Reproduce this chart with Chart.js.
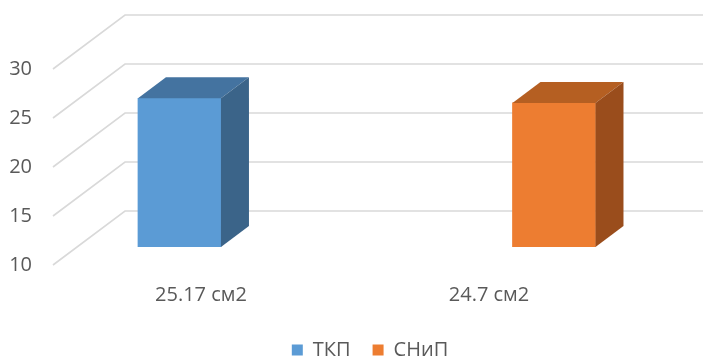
<!DOCTYPE html>
<html>
<head>
<meta charset="utf-8">
<script src="https://cdn.jsdelivr.net/npm/chart.js@4/dist/chart.umd.min.js"></script>
<style>
  html, body { margin: 0; padding: 0; background: #fff; }
  #wrap { width: 703px; height: 358px; }
</style>
</head>
<body>
<div id="wrap"><canvas id="c" width="703" height="358"></canvas></div>
<script>
// Areas compared by two norms
const categories = ['25.17 см2', '24.7 см2'];
const seriesNames = ['ТКП', 'СНиП'];
const tkpValues = [25.17, null];
const snipValues = [null, 24.7];
const yTicks = [10, 15, 20, 25, 30];

// colours: front face, top face, side face
const palette = [
  { front: '#5b9bd5', top: '#4473a0', side: '#3b6489' },
  { front: '#ed7d31', top: '#b55f22', side: '#9a4d1c' }
];

const FONT = "'Open Sans', sans-serif";
const TEXT = '#595959';
const GRID = '#d9d9d9';

// 3D box geometry
const BAR_DX = 28, BAR_DY = 21;       // depth of a bar
const FRAME_LEFT = -4;                // front edge of the frame, relative to the plot's left
const FRAME_DX = 72;                  // horizontal run of the side wall
const FRONT_DY = 18, BACK_DY = 36;    // front / back planes relative to the bar plane

function toPoints(values) {
  const pts = [];
  values.forEach((v, i) => { if (v !== null) pts.push({ x: i, y: v }); });
  return pts;
}

const frame3d = {
  id: 'frame3d',
  beforeDatasetsDraw(chart) {
    const { ctx, chartArea, scales } = chart;
    const y = scales.y;
    const x0 = chartArea.left + FRAME_LEFT;
    ctx.save();
    ctx.strokeStyle = GRID;
    ctx.lineWidth = 1.6;
    yTicks.forEach(t => {
      const py = y.getPixelForValue(t);
      ctx.beginPath();
      ctx.moveTo(x0, py + FRONT_DY);
      ctx.lineTo(x0 + FRAME_DX, py - BACK_DY);
      ctx.lineTo(chart.width, py - BACK_DY);
      ctx.stroke();
    });
    ctx.restore();
  },
  afterDatasetsDraw(chart) {
    const { ctx } = chart;
    chart.data.datasets.forEach((ds, di) => {
      const meta = chart.getDatasetMeta(di);
      const col = palette[di];
      meta.data.forEach(bar => {
        const { x, y, base, width } = bar.getProps(['x', 'y', 'base', 'width'], true);
        const l = x - width / 2, r = x + width / 2;
        ctx.save();
        // top face
        ctx.fillStyle = col.top;
        ctx.beginPath();
        ctx.moveTo(l, y);
        ctx.lineTo(l + BAR_DX, y - BAR_DY);
        ctx.lineTo(r + BAR_DX, y - BAR_DY);
        ctx.lineTo(r, y);
        ctx.closePath();
        ctx.fill();
        // side face
        ctx.fillStyle = col.side;
        ctx.beginPath();
        ctx.moveTo(r, y);
        ctx.lineTo(r + BAR_DX, y - BAR_DY);
        ctx.lineTo(r + BAR_DX, base - BAR_DY);
        ctx.lineTo(r, base);
        ctx.closePath();
        ctx.fill();
        ctx.restore();
      });
    });
  }
};

const yMin = yTicks[0], yMax = yTicks[yTicks.length - 1];

new Chart(document.getElementById('c'), {
  type: 'bar',
  data: {
    labels: categories,
    datasets: [
      { label: seriesNames[0], data: toPoints(tkpValues), backgroundColor: palette[0].front, xAxisID: 'xb', base: yMin },
      { label: seriesNames[1], data: toPoints(snipValues), backgroundColor: palette[1].front, xAxisID: 'xb', base: yMin }
    ]
  },
  options: {
    responsive: false,
    animation: false,
    grouped: false,
    barThickness: 83,
    layout: { padding: { top: 51, left: 5, right: -32, bottom: -12 } },
    plugins: {
      tooltip: { enabled: false },
      legend: {
        position: 'bottom',
        labels: {
          boxWidth: 11, boxHeight: 11, padding: 22,
          color: TEXT, font: { family: FONT, size: 20 }
        }
      }
    },
    scales: {
      x: {
        type: 'category',
        offset: true,
        afterFit(s) { s.height = 71; },
        grid: { display: false, drawTicks: false },
        border: { display: false },
        ticks: { color: TEXT, padding: 36, maxRotation: 0, font: { family: FONT, size: 20 } }
      },
      xb: {
        type: 'linear',
        display: false,
        offset: false,
        bounds: 'data',
        min: -0.327,
        max: 1.211
      },
      y: {
        type: 'linear',
        min: yMin, max: yMax,
        afterBuildTicks(s) { s.ticks = yTicks.map(v => ({ value: v })); },
        afterFit(s) { s.width = 52; },
        grid: { display: false, drawTicks: false },
        border: { display: false },
        ticks: { color: TEXT, padding: 25, labelOffset: 18, font: { family: FONT, size: 20 } }
      },
      yRight: {
        type: 'linear',
        position: 'right',
        afterFit(s) { s.width = 102; },
        grid: { display: false, drawTicks: false },
        border: { display: false },
        ticks: { display: false }
      }
    }
  },
  plugins: [frame3d]
});
</script>
</body>
</html>
